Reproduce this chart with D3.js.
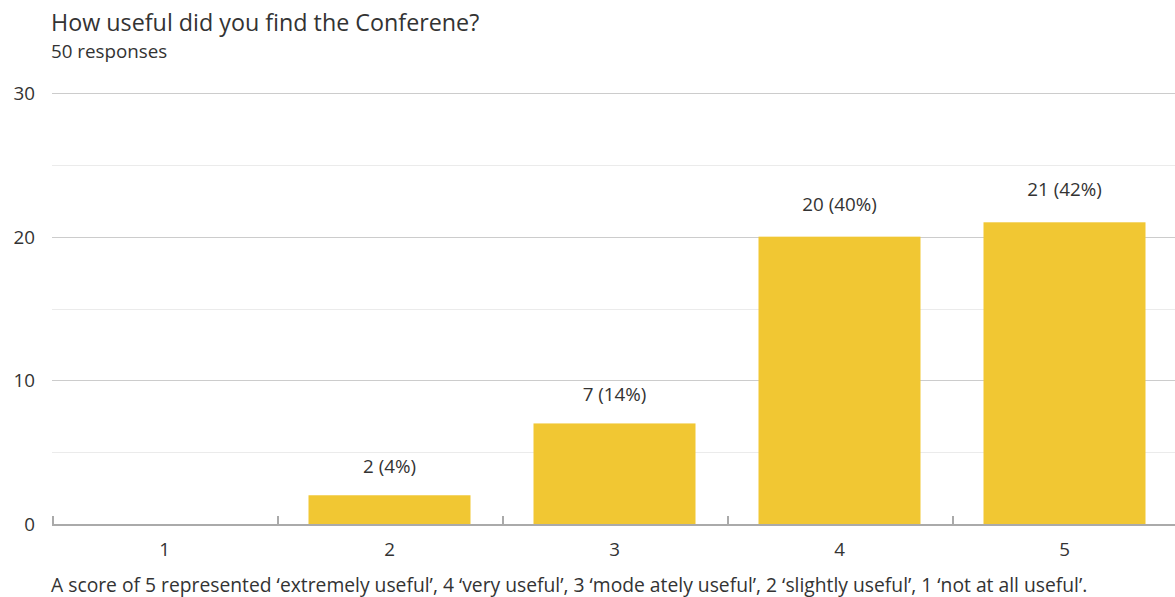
<!DOCTYPE html>
<html>
<head>
<meta charset="utf-8">
<script src="https://cdn.jsdelivr.net/npm/d3@7"></script>
<style>
  body { margin: 0; background: #fff; }
  text { font-family: "Open Sans", "Noto Sans", sans-serif; fill: #333; }
</style>
</head>
<body>
<div id="chart"></div>
<script>
const categories = ['1', '2', '3', '4', '5']
const counts = [0, 2, 7, 20, 21]
const labels = ['', '2 (4%)', '7 (14%)', '20 (40%)', '21 (42%)']
const yTicks = [0, 10, 20, 30]
const yMinor = [5, 15, 25]

const width = 1175
const height = 597
const margin = { top: 93, right: 0, bottom: 73, left: 52 }
const fs = 18.8

const svg = d3.select('#chart')
    .append('svg')
    .attr('width', width)
    .attr('height', height)

const x = d3.scaleBand()
    .domain(categories)
    .range([margin.left, width + 2])
    .paddingInner(0.28)
    .paddingOuter(0.14)

const y = d3.scaleLinear()
    .domain([0, 30])
    .range([height - margin.bottom, margin.top])

// minor gridlines
svg.append('g')
    .selectAll('line')
    .data(yMinor)
    .enter().append('line')
    .attr('x1', margin.left)
    .attr('x2', width)
    .attr('y1', d => Math.round(y(d)) + 0.5)
    .attr('y2', d => Math.round(y(d)) + 0.5)
    .attr('stroke', '#ebebeb')

// major gridlines
svg.append('g')
    .selectAll('line')
    .data(yTicks.filter(d => d > 0))
    .enter().append('line')
    .attr('x1', margin.left)
    .attr('x2', width)
    .attr('y1', d => Math.round(y(d)) + 0.5)
    .attr('y2', d => Math.round(y(d)) + 0.5)
    .attr('stroke', '#cccccc')

// y labels
svg.append('g')
    .selectAll('text')
    .data(yTicks)
    .enter().append('text')
    .attr('x', 35)
    .attr('y', d => y(d) + 7)
    .attr('text-anchor', 'end')
    .attr('font-size', fs)
    .text(d => d)

// bars
svg.append('g')
    .selectAll('rect')
    .data(counts)
    .enter().append('rect')
    .attr('x', (d, i) => x(categories[i]))
    .attr('width', x.bandwidth())
    .attr('y', d => y(d))
    .attr('height', d => y(0) - y(d))
    .attr('fill', '#f1c733')

// bar value labels
svg.append('g')
    .selectAll('text')
    .data(labels)
    .enter().append('text')
    .attr('x', (d, i) => x(categories[i]) + x.bandwidth() / 2)
    .attr('y', (d, i) => y(counts[i]) - (counts[i] > 10 ? 26 : 22))
    .attr('text-anchor', 'middle')
    .attr('font-size', fs)
    .text(d => d)

// x axis line and ticks at band boundaries
const step = x.step()
const bounds = d3.range(categories.length + 1).map(i => margin.left + i * step)

svg.append('line')
    .attr('x1', margin.left)
    .attr('x2', width)
    .attr('y1', y(0) + 1)
    .attr('y2', y(0) + 1)
    .attr('stroke', '#aaaaaa')
    .attr('stroke-width', 2)

svg.append('g')
    .selectAll('line')
    .data(bounds.slice(0, categories.length))
    .enter().append('line')
    .attr('x1', d => d + 1)
    .attr('x2', d => d + 1)
    .attr('y1', y(0) - 8)
    .attr('y2', y(0) + 1)
    .attr('stroke', '#aaaaaa')
    .attr('stroke-width', 2)

// x labels
svg.append('g')
    .selectAll('text')
    .data(categories)
    .enter().append('text')
    .attr('x', d => x(d) + x.bandwidth() / 2)
    .attr('y', y(0) + 32)
    .attr('text-anchor', 'middle')
    .attr('font-size', fs)
    .text(d => d)

// titles
svg.append('text')
    .attr('x', 51)
    .attr('y', 31)
    .attr('font-size', 23.3)
    .text('How useful did you find the Conferene?')

svg.append('text')
    .attr('x', 51)
    .attr('y', 58)
    .attr('font-size', fs)
    .text('50 responses')

svg.append('text')
    .attr('x', 51)
    .attr('y', 592)
    .attr('font-size', 19.3)
    .text('A score of 5 represented \u2018extremely useful\u2019, 4 \u2018very useful\u2019, 3 \u2018mode ately useful\u2019, 2 \u2018slightly useful\u2019, 1 \u2018not at all useful\u2019.')
</script>
</body>
</html>
